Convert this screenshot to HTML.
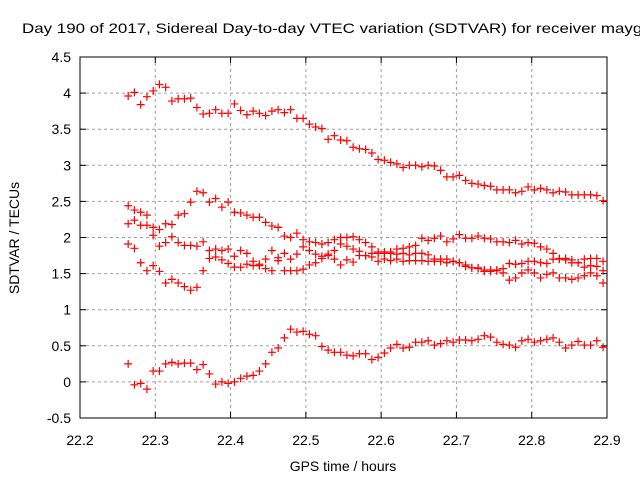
<!DOCTYPE html>
<html><head><meta charset="utf-8"><style>
html,body{margin:0;padding:0;background:#fff;overflow:hidden;width:640px;height:480px}
svg{display:block;font-family:"Liberation Sans",sans-serif}
</style></head><body>
<svg id="chart" width="640" height="480">
<text x="22" y="33" font-size="14" fill="#000" textLength="624" lengthAdjust="spacingAndGlyphs">Day 190 of 2017, Sidereal Day-to-day VTEC variation (SDTVAR) for receiver maygl</text>
<g id="grid"></g>
<g id="axes"></g>
<g id="marks"></g>
<text x="343" y="471" font-size="14" text-anchor="middle">GPS time / hours</text>
<text x="0" y="0" font-size="14" text-anchor="middle" transform="translate(19,238) rotate(-90)">SDTVAR / TECUs</text>
</svg>
<script>
const xTicks=[22.2,22.3,22.4,22.5,22.6,22.7,22.8,22.9];
const xTickLabels=["22.2","22.3","22.4","22.5","22.6","22.7","22.8","22.9"];
const yTicks=[-0.5,0,0.5,1,1.5,2,2.5,3,3.5,4,4.5];
const yTickLabels=["-0.5","0","0.5","1","1.5","2","2.5","3","3.5","4","4.5"];
const tStart=22.264, tStep=0.0083;
const seriesTop=[3.96,4.01,3.84,3.95,4.03,4.12,4.08,3.89,3.92,3.92,3.93,3.80,3.71,3.72,3.77,3.72,3.72,3.85,3.76,3.70,3.75,3.72,3.69,3.75,3.77,3.73,3.77,3.65,3.65,3.57,3.53,3.51,3.36,3.41,3.35,3.34,3.25,3.23,3.22,3.17,3.08,3.07,3.04,3.02,2.97,3.00,3.00,2.98,3.00,2.99,2.93,2.84,2.84,2.86,2.79,2.75,2.74,2.72,2.71,2.66,2.66,2.66,2.62,2.64,2.70,2.66,2.68,2.66,2.62,2.64,2.63,2.59,2.59,2.59,2.59,2.58,2.51];
const seriesA=[2.44,2.38,2.35,2.31,2.14,2.11,2.19,2.18,2.31,2.33,2.49,2.64,2.62,2.49,2.54,2.42,2.49,2.35,2.34,2.31,2.28,2.28,2.21,2.16,2.14,2.02,2.00,2.06,1.97,1.94,1.93,1.91,1.93,1.97,2.00,2.00,2.01,1.97,1.93,1.87,1.80,1.78,1.78,1.84,1.85,1.87,1.89,1.99,1.96,1.99,2.02,1.94,1.98,2.04,1.99,1.99,2.02,1.99,1.98,1.94,1.94,1.93,1.96,1.91,1.93,1.92,1.87,1.84,1.78,1.71,1.71,1.69,1.65,1.70,1.71,1.71,1.67];
const seriesB=[2.19,2.24,2.17,2.17,2.03,1.88,1.93,2.01,1.93,1.89,1.89,1.88,1.94,1.82,1.84,1.82,1.84,1.74,1.82,1.78,1.67,1.63,1.70,1.82,1.72,1.78,1.70,1.77,1.87,1.82,1.77,1.74,1.77,1.82,1.91,1.88,1.84,1.81,1.75,1.78,1.78,1.70,1.68,1.77,1.78,1.76,1.78,1.78,1.76,1.70,1.70,1.70,1.67,1.65,1.60,1.58,1.58,1.53,1.55,1.54,1.57,1.64,1.63,1.64,1.67,1.67,1.65,1.64,1.70,1.70,1.69,1.65,1.65,1.59,1.61,1.60,1.54];
const seriesC=[1.91,1.85,1.65,1.54,1.61,1.53,1.37,1.42,1.37,1.32,1.27,1.31,1.54,1.71,1.73,1.69,1.64,1.59,1.59,1.63,1.61,1.61,1.57,1.54,1.68,1.54,1.54,1.54,1.56,1.62,1.65,1.71,1.75,1.70,1.62,1.69,1.66,1.75,1.75,1.73,1.67,1.80,1.80,1.70,1.67,1.68,1.68,1.68,1.67,1.67,1.67,1.65,1.67,1.65,1.62,1.58,1.57,1.55,1.53,1.55,1.51,1.41,1.44,1.51,1.55,1.51,1.44,1.49,1.51,1.44,1.44,1.42,1.44,1.47,1.51,1.47,1.37];
const seriesBottom=[0.25,-0.04,-0.02,-0.10,0.15,0.15,0.25,0.27,0.25,0.26,0.26,0.17,0.24,0.11,-0.03,0.00,-0.02,0.00,0.05,0.08,0.09,0.15,0.25,0.41,0.47,0.61,0.73,0.69,0.70,0.66,0.64,0.49,0.44,0.41,0.41,0.37,0.36,0.39,0.39,0.31,0.34,0.40,0.47,0.52,0.47,0.48,0.55,0.55,0.57,0.51,0.53,0.57,0.55,0.58,0.58,0.57,0.59,0.64,0.62,0.55,0.52,0.51,0.48,0.57,0.59,0.55,0.57,0.59,0.61,0.55,0.47,0.51,0.56,0.51,0.51,0.57,0.48];
const allSeries=[["series-top",seriesTop],["series-a",seriesA],["series-b",seriesB],["series-c",seriesC],["series-bottom",seriesBottom]];
const L=80,R=607,T=57,B=418;
const xMin=22.2,xMax=22.9,yMin=-0.5,yMax=4.5;
function sx(v){return L+(v-xMin)/(xMax-xMin)*(R-L);}
function sy(v){return B-(v-yMin)/(yMax-yMin)*(B-T);}
const NS="http://www.w3.org/2000/svg";
function mk(tag,attrs,parent){const e=document.createElementNS(NS,tag);for(const k in attrs)e.setAttribute(k,attrs[k]);parent.appendChild(e);return e;}
const grid=document.getElementById('grid'),axes=document.getElementById('axes'),marks=document.getElementById('marks');
xTicks.forEach((t,i)=>{const x=sx(t);
 if(i>0&&i<xTicks.length-1){const g=mk('line',{x1:x,x2:x,y1:T,y2:B,stroke:'#a0a0a0','stroke-dasharray':'3,3'},grid);
 
 }
 mk('line',{x1:x,x2:x,y1:B,y2:B-6,stroke:'#000'},axes);
 mk('line',{x1:x,x2:x,y1:T,y2:T+6,stroke:'#000'},axes);
 const tx=mk('text',{x:x,y:445,'font-size':14,'text-anchor':'middle'},axes);tx.textContent=xTickLabels[i];
 
 
});
yTicks.forEach((t,i)=>{const y=sy(t);
 if(i>0&&i<yTicks.length-1){const g=mk('line',{x1:L,x2:R,y1:y,y2:y,stroke:'#a0a0a0','stroke-dasharray':'3,3'},grid);
 
 }
 mk('line',{x1:L,x2:L+6,y1:y,y2:y,stroke:'#000'},axes);
 mk('line',{x1:R,x2:R-6,y1:y,y2:y,stroke:'#000'},axes);
 const tx=mk('text',{x:71,y:y+5,'font-size':14,'text-anchor':'end'},axes);tx.textContent=yTickLabels[i];
 
 
});
const box=mk('rect',{x:L,y:T,width:R-L,height:B-T,fill:'none',stroke:'#000'},axes);


allSeries.forEach(([name,vals])=>{
 const g=mk('g',{},marks);
 
 
 vals.forEach((v,i)=>{const x=sx(tStart+i*tStep),y=sy(v);
  const p=mk('path',{d:`M${x-4},${y}H${x+4}M${x},${y-4}V${y+4}`,stroke:'#ff0000','stroke-width':1.2,fill:'none'},g);
  
  
 });
});
</script>
</body></html>
